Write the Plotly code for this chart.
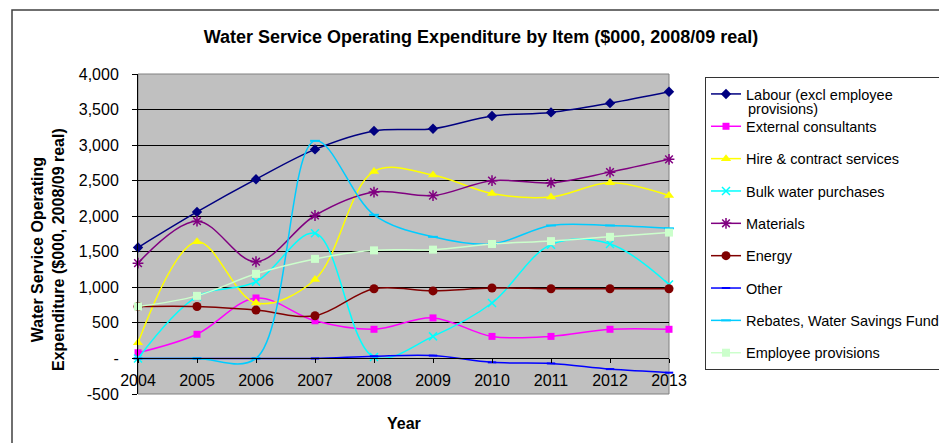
import plotly.graph_objects as go

years = [2004, 2005, 2006, 2007, 2008, 2009, 2010, 2011, 2012, 2013]

labour = [1560, 2060, 2520, 2940, 3200, 3230, 3410, 3460, 3590, 3750]
external_consultants = [80, 340, 850, 530, 410, 570, 310, 310, 410, 410]
hire_contract = [220, 1640, 780, 1110, 2630, 2580, 2320, 2270, 2470, 2290]
bulk_water = [0, 870, 1080, 1760, 20, 310, 780, 1600, 1610, 1040]
materials = [1340, 1930, 1360, 2010, 2340, 2290, 2500, 2470, 2620, 2800]
energy = [730, 730, 680, 600, 980, 950, 990, 980, 980, 980]
other = [0, 0, 0, 0, 30, 40, -55, -70, -150, -200]
rebates = [0, 0, 0, 3060, 2020, 1710, 1610, 1870, 1870, 1830]
employee_provisions = [730, 880, 1190, 1400, 1520, 1530, 1610, 1650, 1710, 1770]

y_tickvals = [-500, 0, 500, 1000, 1500, 2000, 2500, 3000, 3500, 4000]
y_ticktext = ["-500", "-", "500", "1,000", "1,500", "2,000", "2,500", "3,000", "3,500", "4,000"]

FONT = "Liberation Sans, Arial, sans-serif"

series = [
    ("Labour (excl employee", labour, "#000080", dict(symbol="diamond", size=8, color="#000080")),
    ("External consultants", external_consultants, "#FF00FF", dict(symbol="square", size=7, color="#FF00FF")),
    ("Hire & contract services", hire_contract, "#FFFF00", dict(symbol="triangle-up", size=9, color="#FFFF00")),
    ("Bulk water purchases", bulk_water, "#00FFFF", dict(symbol="x-thin-open", size=8, color="#00FFFF", line=dict(color="#00FFFF", width=1.5))),
    ("Materials", materials, "#800080", dict(symbol="asterisk-open", size=9, color="#800080", line=dict(color="#800080", width=1.5))),
    ("Energy", energy, "#800000", dict(symbol="circle", size=9, color="#800000")),
    ("Other", other, "#0000FF", dict(symbol="line-ew-open", size=6, color="#0000FF", line=dict(color="#0000FF", width=2))),
    ("Rebates, Water Savings Fund", rebates, "#00CCFF", dict(symbol="line-ew-open", size=7, color="#00CCFF", line=dict(color="#00CCFF", width=2))),
    ("Employee provisions", employee_provisions, "#CCFFCC", dict(symbol="square", size=8, color="#CCFFCC")),
]

fig = go.Figure()
for name, vals, col, mk in series:
    fig.add_trace(go.Scatter(
        x=years, y=vals, name=name, mode="lines+markers",
        line=dict(color=col, width=1.5, shape="spline", smoothing=1.0),
        marker=mk, cliponaxis=False, legendgroup=name,
    ))

# the page has an 8px body margin: work in page pixels and subtract it
OFF = 8
W, H = 947 - OFF, 443 - OFF
L, R, T, B = 138 - OFF, 669 - OFF, 74 - OFF, 394 - OFF

def px_x(p):
    return (p - OFF - L) / (R - L)

def px_y(p):
    return (B - (p - OFF)) / (B - T)

fig.update_layout(
    width=W, height=H,
    margin=dict(l=L, r=W - R, t=T, b=H - B, autoexpand=False),
    paper_bgcolor="white",
    plot_bgcolor="#C0C0C0",
    font=dict(family=FONT, size=15, color="black"),
    showlegend=True,
    title=dict(
        text="<b>Water Service Operating Expenditure by Item ($000, 2008/09 real)</b>",
        x=(481 - OFF) / W, y=1 - (37 - OFF) / H, xref="container", yref="container",
        xanchor="center", yanchor="middle",
        font=dict(family=FONT, size=18, color="black"),
    ),
    legend=dict(
        x=px_x(705), y=px_y(77), xanchor="left", yanchor="top",
        bordercolor="#333333", borderwidth=1, bgcolor="white",
        font=dict(family=FONT, size=14.5, color="black"),
        tracegroupgap=10.5, traceorder="grouped",
    ),
    xaxis=dict(
        range=[2004, 2013], tickvals=years, ticktext=[str(y) for y in years],
        anchor="free", position=500 / 4500,
        showline=True, linecolor="black", linewidth=1,
        ticks="outside", ticklen=4, tickcolor="black",
        showgrid=False, zeroline=False, ticklabelstandoff=3,
        tickfont=dict(family=FONT, size=16),
    ),
    yaxis=dict(
        range=[-500, 4000], tickvals=y_tickvals, ticktext=y_ticktext,
        showline=True, linecolor="black", linewidth=1,
        ticks="outside", ticklen=5, tickcolor="black",
        showgrid=True, gridcolor="black", gridwidth=1,
        zeroline=False, ticklabelstandoff=10,
        tickfont=dict(family=FONT, size=16),
    ),
    shapes=[
        dict(type="rect", xref="paper", yref="paper", x0=0, x1=1, y0=0, y1=1,
             line=dict(color="#808080", width=1), layer="below"),
        dict(type="rect", xref="paper", yref="paper", x0=px_x(12), x1=px_x(1100),
             y0=px_y(700), y1=px_y(10), line=dict(color="#404040", width=1.5),
             layer="above"),
    ],
    annotations=[
        dict(text="<b>Water Service Operating<br>Expenditure ($000, 2008/09 real)</b>",
             x=px_x(48), y=px_y(250), xref="paper", yref="paper",
             textangle=-90, showarrow=False, xanchor="center", yanchor="middle",
             font=dict(family=FONT, size=16, color="black")),
        dict(text="<b>Year</b>", x=0.5, y=px_y(423), xref="paper", yref="paper",
             showarrow=False, xanchor="center", yanchor="middle",
             font=dict(family=FONT, size=16, color="black")),
        dict(text="provisions)", x=px_x(746), y=px_y(109), xref="paper", yref="paper",
             showarrow=False, xanchor="left", yanchor="middle",
             font=dict(family=FONT, size=14.5, color="black")),
    ],
)

fig.write_html("out.html")
